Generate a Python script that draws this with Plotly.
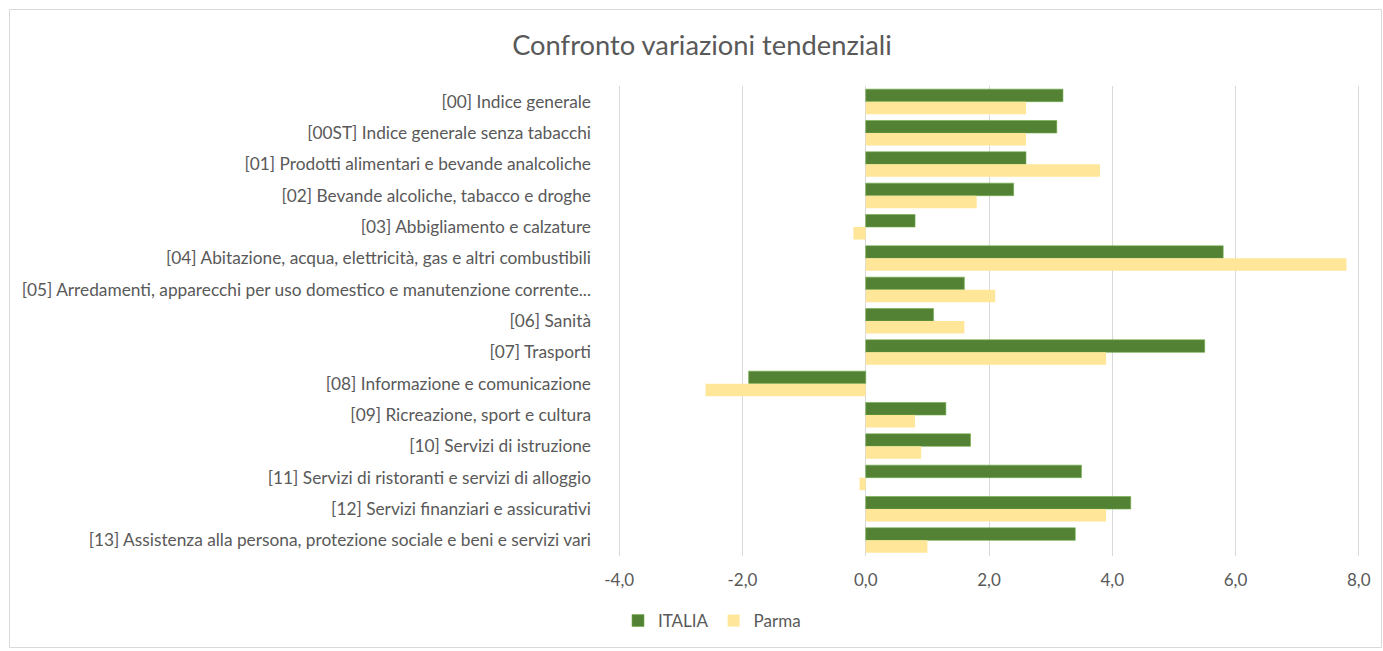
import plotly.graph_objects as go

categories = [
    "[00] Indice generale",
    "[00ST] Indice generale senza tabacchi",
    "[01] Prodotti alimentari e bevande analcoliche",
    "[02] Bevande alcoliche, tabacco e droghe",
    "[03] Abbigliamento e calzature",
    "[04] Abitazione, acqua, elettricità, gas e altri combustibili",
    "[05] Arredamenti, apparecchi per uso domestico e manutenzione corrente...",
    "[06] Sanità",
    "[07] Trasporti",
    "[08] Informazione e comunicazione",
    "[09] Ricreazione, sport e cultura",
    "[10] Servizi di istruzione",
    "[11] Servizi di ristoranti e servizi di alloggio",
    "[12] Servizi finanziari e assicurativi",
    "[13] Assistenza alla persona, protezione sociale e beni e servizi vari",
]
italia = [3.2, 3.1, 2.6, 2.4, 0.8, 5.8, 1.6, 1.1, 5.5, -1.9, 1.3, 1.7, 3.5, 4.3, 3.4]
parma = [2.6, 2.6, 3.8, 1.8, -0.2, 7.8, 2.1, 1.6, 3.9, -2.6, 0.8, 0.9, -0.1, 3.9, 1.0]
x_ticks = [-4, -2, 0, 2, 4, 6, 8]
x_tick_labels = ["-4,0", "-2,0", "0,0", "2,0", "4,0", "6,0", "8,0"]

W, H = 1383, 651
L, R, T, B = 618, 23, 86, 95
PW, PH = W - L - R, H - T - B

font_family = "Lato, Open Sans, sans-serif"
grey = "#595959"

fig = go.Figure()
fig.add_trace(go.Bar(
    y=categories, x=italia, name="ITALIA", orientation="h",
    marker=dict(color="#548235", line=dict(color="#70AD47", width=0.6)),
))
fig.add_trace(go.Bar(
    y=categories, x=parma, name="Parma", orientation="h",
    marker=dict(color="#FFE699", line=dict(width=0)),
))

def px_x(p):
    return (p - L) / PW

def px_y(p):
    return 1 - (p - T) / PH

fig.update_layout(
    width=W, height=H,
    margin=dict(l=L, r=R, t=T, b=B, autoexpand=False),
    paper_bgcolor="white", plot_bgcolor="white",
    barmode="group", bargap=0.2, bargroupgap=0,
    font=dict(family=font_family, size=17.3, color=grey),
    title=dict(text="Confronto variazioni tendenziali", x=702 / W, xref="container",
               xanchor="center", y=1 - 45 / H, yref="container", yanchor="middle",
               font=dict(family=font_family, size=27.3, color=grey)),
    xaxis=dict(range=[-4.02, 8.02], tickvals=x_ticks, ticktext=x_tick_labels,
               showgrid=True, gridcolor="#D9D9D9", gridwidth=1,
               zeroline=False, showline=False, ticks="", automargin=False,
               tickfont=dict(size=17, color=grey), ticklabelstandoff=12),
    yaxis=dict(autorange="reversed", showgrid=False, zeroline=False,
               showline=False, ticks="", ticklabelstandoff=26, automargin=False,
               tickfont=dict(size=17.3, color=grey)),
    legend=dict(orientation="h", x=0.0, xanchor="left", y=px_y(621),
                yanchor="middle", font=dict(size=17, color=grey),
                traceorder="normal"),
    shapes=[dict(type="rect", xref="paper", yref="paper",
                 x0=px_x(9.5), x1=px_x(1381.5), y0=px_y(647.5), y1=px_y(9.5),
                 line=dict(color="#D9D9D9", width=1), fillcolor="rgba(0,0,0,0)",
                 layer="below")],
)

fig.write_html("out.html", config={"displayModeBar": False})

with open("out.html", "r", encoding="utf-8") as f:
    html = f.read()
html = html.replace("<head>", "<head><style>html,body{margin:0;padding:0;overflow:hidden;}</style>", 1)
with open("out.html", "w", encoding="utf-8") as f:
    f.write(html)
